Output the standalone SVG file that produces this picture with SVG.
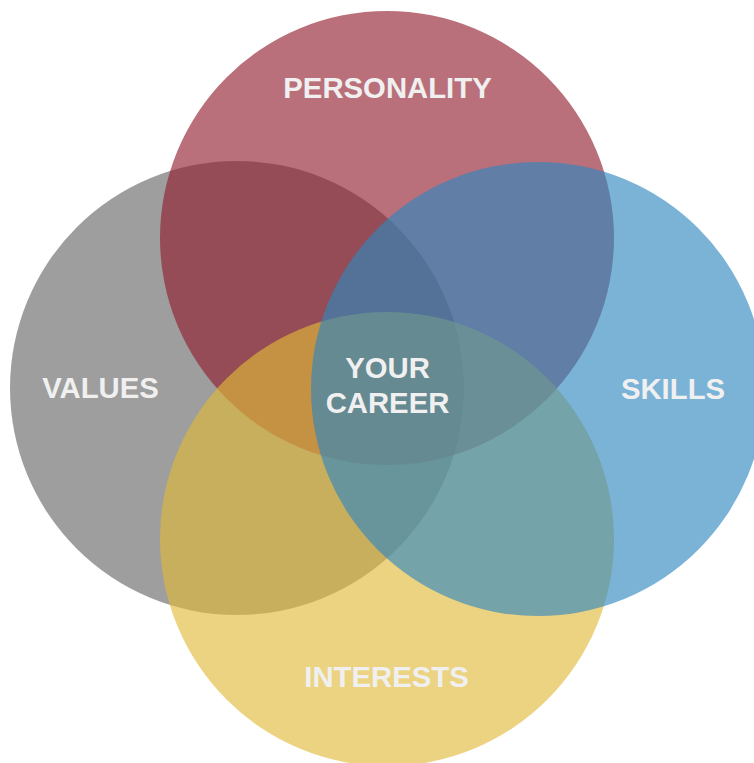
<svg xmlns="http://www.w3.org/2000/svg" width="754" height="763" viewBox="0 0 754 763">
<style>
.c{fill-opacity:0.63;stroke:none}
.t{font-family:"Liberation Sans",Arial,Helvetica,sans-serif;font-weight:bold;font-size:29.3px;fill:#f0f0f0;text-anchor:middle}
</style>
<rect width="754" height="763" fill="#ffffff"/>
<g id="values">
<circle class="c" cx="237" cy="388" r="227" fill="#636563"/>
<text class="t" x="100.5" y="398">VALUES</text>
</g>
<g id="personality">
<circle class="c" cx="387" cy="238" r="227" fill="#901c2c"/>
<text class="t" x="387.5" y="98">PERSONALITY</text>
</g>
<g id="interests">
<circle class="c" cx="387" cy="539" r="227" fill="#e1b939"/>
<text class="t" x="386.5" y="687">INTERESTS</text>
</g>
<g id="skills">
<circle class="c" cx="538" cy="389" r="227" fill="#2e86c0"/>
<text class="t" x="673" y="399">SKILLS</text>
</g>
<g id="your-career">
<text class="t" x="387.5" y="378">YOUR</text>
<text class="t" x="387.5" y="413">CAREER</text>
</g>
<g id="connectors"/>
</svg>
